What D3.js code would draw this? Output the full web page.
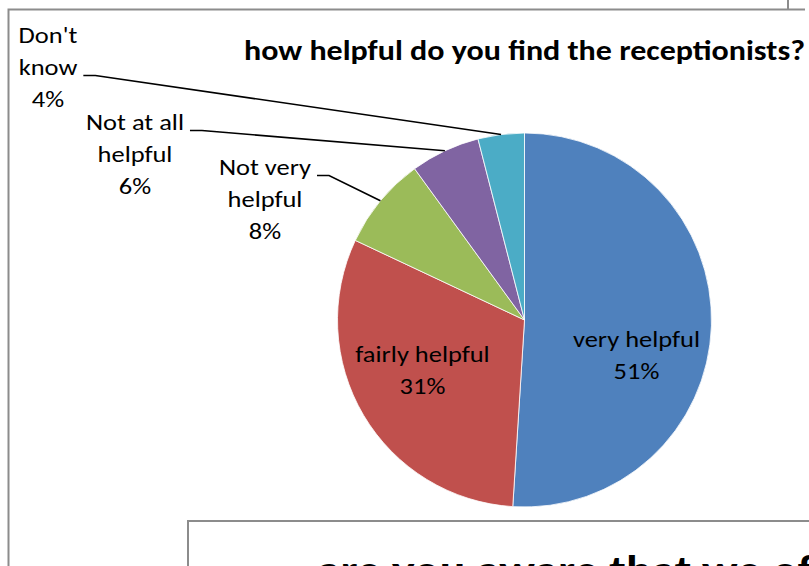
<!DOCTYPE html>
<html>
<head>
<meta charset="utf-8">
<script src="https://cdn.jsdelivr.net/npm/d3@7"></script>
<style>
  html, body { margin: 0; padding: 0; background: #fff; overflow: hidden; }
  svg { display: block; }
  text { font-family: Carlito, Calibri, Lato, sans-serif; fill: #000; }
</style>
</head>
<body>
<svg id="chart" width="809" height="566"></svg>
<script>
// ---- data ----
const title = "how helpful do you find the receptionists?";
const categories = ["very helpful", "fairly helpful", "Not very helpful", "Not at all helpful", "Don't know"];
const values = [51, 31, 8, 6, 4];
const nameLines = [["very helpful"], ["fairly helpful"], ["Not very", "helpful"], ["Not at all", "helpful"], ["Don't", "know"]];
const nextTitle = "are you aware that we of";

// ---- layout / style ----
const colors = ["#4F81BD", "#C0504D", "#9BBB59", "#8064A2", "#4BACC6"];
const cx = 524.5, cy = 320, R = 187;
const lineStep = 32;
// label block centre x and first baseline y; leader: which line the leader leaves from (-1 = none)
const labelLayout = [
  { x: 636.5, y: 347, leaderLine: -1 },
  { x: 422.5, y: 362, leaderLine: -1 },
  { x: 265,   y: 175, leaderLine: 0 },
  { x: 135,   y: 130, leaderLine: 0 },
  { x: 48,    y: 43,  leaderLine: 1 }
];
const labelSize = 23.4, labelRefWidth = 127;   // "very helpful" width in reference
const titleSize = 28.5, titleWidth = 561, titleX = 524.5, titleY = 60;
const gray = "#8c8c8c";

const svg = d3.select("#chart");

// frames
svg.append("path").attr("d", "M8.5,566 V9.5 H805")
  .attr("fill", "none").attr("stroke", gray).attr("stroke-width", 2);
svg.append("line").attr("x1", 788).attr("x2", 788).attr("y1", 0).attr("y2", 9)
  .attr("stroke", gray).attr("stroke-width", 2);

// pie
const pie = d3.pie().sort(null).value(d => d)(values);
const arc = d3.arc().innerRadius(0).outerRadius(R);
const g = svg.append("g").attr("transform", `translate(${cx},${cy})`);
g.selectAll("path.slice").data(pie).join("path")
  .attr("class", "slice")
  .attr("d", arc)
  .attr("fill", (d, i) => colors[i])
  .attr("stroke", "#ffffff").attr("stroke-width", 0.8);

// labels
const labelsG = svg.append("g");
const allLines = [];
pie.forEach((d, i) => {
  const lay = labelLayout[i];
  const lines = nameLines[i].concat([values[i] + "%"]);
  lines.forEach((t, k) => {
    const el = labelsG.append("text")
      .attr("x", lay.x).attr("y", lay.y + k * lineStep)
      .attr("text-anchor", "middle")
      .attr("font-size", labelSize)
      .text(t);
    allLines.push({ el, i, k });
  });
});
// compress glyphs to match reference widths
const refEl = allLines.find(o => o.el.text() === "very helpful").el;
const kLab = labelRefWidth / refEl.node().getComputedTextLength();
allLines.forEach(o => {
  const w = o.el.node().getComputedTextLength();
  o.el.attr("textLength", w * kLab).attr("lengthAdjust", "spacingAndGlyphs");
  o.w = w * kLab;
});

// leader lines
pie.forEach((d, i) => {
  const lay = labelLayout[i];
  if (lay.leaderLine < 0) return;
  const o = allLines.find(a => a.i === i && a.k === lay.leaderLine);
  const x0 = lay.x + o.w / 2 + 6;
  const y0 = lay.y + lay.leaderLine * lineStep + 0.5;
  const a = (d.startAngle + d.endAngle) / 2;
  const px = cx + R * Math.sin(a), py = cy - R * Math.cos(a);
  svg.append("path")
    .attr("d", `M${x0},${y0} H${x0 + 12} L${px},${py}`)
    .attr("fill", "none").attr("stroke", "#000").attr("stroke-width", 1.6);
});

// title
const tEl = svg.append("text")
  .attr("x", titleX).attr("y", titleY)
  .attr("text-anchor", "middle")
  .attr("font-size", titleSize).attr("font-weight", "bold")
  .text(title);
tEl.attr("textLength", titleWidth).attr("lengthAdjust", "spacingAndGlyphs");

// next chart box (partially visible)
svg.append("rect").attr("x", 188).attr("y", 521).attr("width", 700).attr("height", 120)
  .attr("fill", "#fff").attr("stroke", gray).attr("stroke-width", 2);
svg.append("text")
  .attr("x", 317).attr("y", 585)
  .attr("font-size", 42.7).attr("font-weight", "bold")
  .attr("textLength", 496).attr("lengthAdjust", "spacingAndGlyphs")
  .text(nextTitle);
</script>
</body>
</html>
